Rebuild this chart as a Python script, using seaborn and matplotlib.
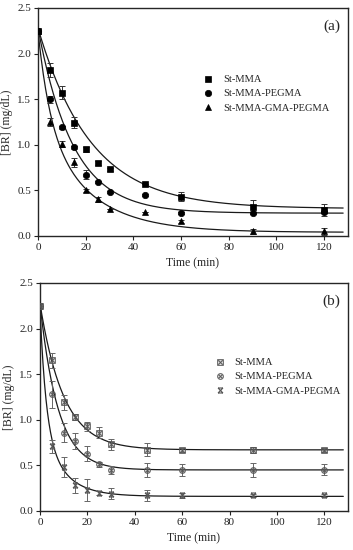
import matplotlib
matplotlib.use("Agg")
import matplotlib.pyplot as plt
from matplotlib.path import Path
import numpy as np
import pandas as pd
import seaborn as sns

# sampling times (min)
time = [0, 5, 10, 15, 20, 25, 30, 45, 60, 90, 120]
series = ["St-MMA", "St-MMA-PEGMA", "St-MMA-GMA-PEGMA"]

# panel (a) measured [BR] and error
a_mma = [2.25, 1.82, 1.57, 1.24, 0.95, 0.80, 0.73, 0.57, 0.43, 0.32, 0.28]
a_mma_err = [0.0, 0.08, 0.07, 0.06, 0.03, 0.02, 0.02, 0.0, 0.05, 0.07, 0.065]
a_peg = [2.25, 1.50, 1.19, 0.97, 0.67, 0.59, 0.48, 0.45, 0.25, 0.25, 0.26]
a_peg_err = [0.0, 0.04, 0.02, 0.02, 0.05, 0.01, 0.01, 0.01, 0.01, 0.01, 0.01]
a_gma = [2.25, 1.25, 1.01, 0.81, 0.50, 0.40, 0.30, 0.26, 0.16, 0.05, 0.05]
a_gma_err = [0.0, 0.04, 0.03, 0.05, 0.02, 0.03, 0.0, 0.0, 0.02, 0.03, 0.04]

# panel (b) measured [BR] and error
b_mma = [2.25, 1.65, 1.19, 1.03, 0.93, 0.86, 0.73, 0.67, 0.67, 0.67, 0.67]
b_mma_err = [0.0, 0.08, 0.08, 0.03, 0.05, 0.06, 0.06, 0.07, 0.02, 0.03, 0.02]
b_peg = [2.25, 1.28, 0.86, 0.77, 0.63, 0.51, 0.45, 0.45, 0.45, 0.45, 0.45]
b_peg_err = [0.0, 0.15, 0.10, 0.09, 0.08, 0.03, 0.04, 0.08, 0.07, 0.08, 0.06]
b_gma = [2.25, 0.71, 0.48, 0.28, 0.23, 0.20, 0.19, 0.17, 0.17, 0.17, 0.17]
b_gma_err = [0.0, 0.07, 0.11, 0.08, 0.12, 0.02, 0.06, 0.06, 0.03, 0.02, 0.02]

# fitted decay curves: c + a1*exp(-k1 t) + a2*exp(-k2 t)
a_fit_c = [0.30, 0.25, 0.04]
a_fit_a1 = [0.0, 0.0, 0.96]
a_fit_k1 = [0.2, 0.2, 0.20]
a_fit_a2 = [1.98, 2.03, 1.25]
a_fit_k2 = [0.045, 0.068, 0.050]

b_fit_c = [0.67, 0.45, 0.16]
b_fit_a1 = [0.0, 0.0, 1.29]
b_fit_k1 = [0.2, 0.2, 0.40]
b_fit_a2 = [1.61, 1.83, 0.80]
b_fit_k2 = [0.10, 0.13, 0.11]

hourglass = Path([(-1, -1), (1, 1), (-1, 1), (1, -1), (-1, 1), (1, 1), (-1, -1), (1, -1)],
                 [Path.MOVETO, Path.LINETO] * 4)

sns.set_style("ticks")
plt.rcParams["font.family"] = ["Liberation Serif", "DejaVu Serif"]
plt.rcParams["axes.linewidth"] = 1.0
plt.rcParams["xtick.major.size"] = 3
plt.rcParams["ytick.major.size"] = 3

fig = plt.figure(figsize=(3.53, 5.5), dpi=100)
ax_a = fig.add_axes([0.1076, 0.571, 0.878, 0.4145])
ax_b = fig.add_axes([0.113, 0.071, 0.873, 0.4145])

t_fit = np.linspace(0, 128, 400)


def draw_panel(ax, ys, errs, fits, styles, label, leg_pos):
    c, a1, k1, a2, k2 = fits
    frames = []
    for i, name in enumerate(series):
        y_fit = c[i] + a1[i] * np.exp(-k1[i] * t_fit) + a2[i] * np.exp(-k2[i] * t_fit)
        frames.append(pd.DataFrame({"t": t_fit, "y": y_fit, "s": name}))
    curves = pd.concat(frames)
    sns.lineplot(data=curves, x="t", y="y", units="s", estimator=None,
                 color="#1a1a1a", linewidth=0.9, ax=ax, legend=False)
    for i, name in enumerate(series):
        st = styles[i]
        ax.errorbar(time, ys[i], yerr=errs[i], fmt="none", ecolor=st["ecolor"],
                    elinewidth=0.7, capsize=2.2, capthick=0.7, zorder=3)
        ax.plot(time, ys[i], linestyle="none", marker=st["marker"],
                markersize=st["size"], color=st["face"], markeredgecolor=st["edge"],
                markeredgewidth=st["mew"], label=name, zorder=4)
    ax.set_xlim(0, 130)
    ax.set_ylim(0, 2.5)
    ax.set_xticks([0, 20, 40, 60, 80, 100, 120])
    ax.set_yticks([0.0, 0.5, 1.0, 1.5, 2.0, 2.5])
    ax.set_yticklabels(["0.0", "0.5", "1.0", "1.5", "2.0", "2.5"])
    ax.tick_params(labelsize=8, width=0.8, pad=2, colors="#222222")
    ax.set_xlabel("Time (min)", fontsize=8.5, labelpad=4)
    ax.set_ylabel("[BR] (mg/dL)", fontsize=8.5, labelpad=3)
    ax.text(0.975, 0.95, label, transform=ax.transAxes, ha="right", va="top", fontsize=11)
    ax.legend(loc="upper left", bbox_to_anchor=leg_pos, frameon=False, fontsize=7.6,
              handlelength=1.2, handletextpad=0.8, labelspacing=0.45, borderaxespad=0)


styles_a = [
    dict(marker="s", size=4.3, face="black", edge="black", mew=0.5, ecolor="#333333"),
    dict(marker="o", size=4.6, face="black", edge="black", mew=0.5, ecolor="#333333"),
    dict(marker="^", size=4.8, face="black", edge="black", mew=0.5, ecolor="#333333"),
]
styles_b = [
    dict(marker="$\\boxtimes$", size=4.6, face="#555555", edge="#555555", mew=0.2, ecolor="#666666"),
    dict(marker="$\\otimes$", size=4.6, face="#555555", edge="#555555", mew=0.2, ecolor="#666666"),
    dict(marker=hourglass, size=3.6, face="#555555", edge="#555555", mew=0.8, ecolor="#666666"),
]

draw_panel(ax_a, [a_mma, a_peg, a_gma], [a_mma_err, a_peg_err, a_gma_err],
           [a_fit_c, a_fit_a1, a_fit_k1, a_fit_a2, a_fit_k2], styles_a, "(a)", (0.515, 0.725))
draw_panel(ax_b, [b_mma, b_peg, b_gma], [b_mma_err, b_peg_err, b_gma_err],
           [b_fit_c, b_fit_a1, b_fit_k1, b_fit_a2, b_fit_k2], styles_b, "(b)", (0.55, 0.69))

fig.savefig("out.png", dpi=100)
